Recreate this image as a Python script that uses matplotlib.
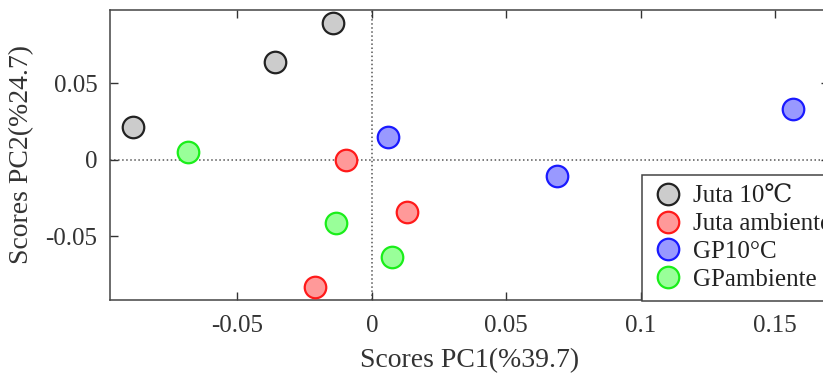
import matplotlib
matplotlib.use("Agg")
import matplotlib.pyplot as plt

plt.rcParams['font.family'] = ['Liberation Serif', 'DejaVu Serif']

# PCA scores
juta10_x = [-0.0888, -0.0361, -0.0145]
juta10_y = [0.0216, 0.0640, 0.0895]
juta_amb_x = [-0.0097, 0.0130, -0.0212]
juta_amb_y = [0.0000, -0.0340, -0.0830]
gp10_x = [0.0061, 0.0688, 0.1565]
gp10_y = [0.0150, -0.0105, 0.0333]
gp_amb_x = [-0.0684, -0.0134, 0.0074]
gp_amb_y = [0.0052, -0.0412, -0.0634]

labels = ['Juta 10\u2103', 'Juta ambiente', 'GP10\u00b0C', 'GPambiente']
xticks = [-0.05, 0, 0.05, 0.1, 0.15]
xticklabels = ['-0.05', '0', '0.05', '0.1', '0.15']
yticks = [-0.05, 0, 0.05]
yticklabels = ['-0.05', '0', '0.05']

fig = plt.figure(figsize=(8.23, 3.74), dpi=100)
ax = fig.add_axes([110 / 823, 74 / 374, 719 / 823, 290 / 374])

ax.axvline(0, color='#555555', linestyle=':', linewidth=1.1, zorder=1)
ax.axhline(0, color='#555555', linestyle=':', linewidth=1.1, zorder=1)

series = [
    (juta10_x, juta10_y, '#cccccc', '#222222'),
    (juta_amb_x, juta_amb_y, '#ff9999', '#ff1a1a'),
    (gp10_x, gp10_y, '#9999ff', '#1a1aff'),
    (gp_amb_x, gp_amb_y, '#99ff99', '#1aee1a'),
]
for (xs, ys, fc, ec), lab in zip(series, labels):
    ax.plot(xs, ys, 'o', markersize=15.5, markerfacecolor=fc,
            markeredgecolor=ec, markeredgewidth=1.6, label=lab, zorder=3)

ax.set_xlim(-0.0974, 0.17)
ax.set_ylim(-0.0915, 0.098)
ax.set_xticks(xticks)
ax.set_xticklabels(xticklabels)
ax.set_yticks(yticks)
ax.set_yticklabels(yticklabels)
ax.tick_params(direction='in', length=6, width=1, top=True, right=True,
               labelsize=18, colors='#333333')
ax.tick_params(axis='x', pad=11)
ax.tick_params(axis='y', pad=9)
for s in ax.spines.values():
    s.set_color('#444444')
    s.set_linewidth(1.1)

ax.set_xlabel('Scores PC1(%39.7)', fontsize=20, color='#333333', labelpad=8)
ax.set_ylabel('Scores PC2(%24.7)', fontsize=20, color='#333333', labelpad=8)

leg = ax.legend(loc='upper left', bbox_to_anchor=(0.740, 0.431), fontsize=18,
                frameon=True, fancybox=False, framealpha=1, edgecolor='#444444',
                handletextpad=0.35, labelspacing=0.21, borderpad=0.4,
                handlelength=1.3, borderaxespad=0)
leg.get_frame().set_linewidth(1.1)
for t in leg.get_texts():
    t.set_color('#222222')

fig.savefig('out.png', dpi=100)
